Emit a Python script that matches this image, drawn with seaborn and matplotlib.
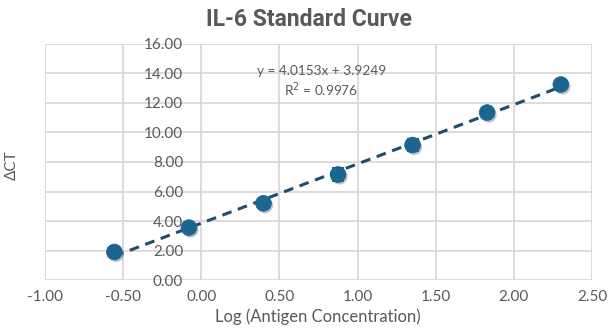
import numpy as np
import pandas as pd
import matplotlib
matplotlib.use("Agg")
import matplotlib.pyplot as plt
import matplotlib.patheffects as pe
import seaborn as sns

log_conc = [-0.556, -0.079, 0.398, 0.875, 1.352, 1.829, 2.301]
delta_ct = [1.90, 3.55, 5.20, 7.15, 9.15, 11.35, 13.25]
errors = [0.15, 0.20, 0.20, 0.45, 0.40, 0.20, 0.20]
x_ticks = [-1.0, -0.5, 0.0, 0.5, 1.0, 1.5, 2.0, 2.5]
y_ticks = [0, 2, 4, 6, 8, 10, 12, 14, 16]
title = "IL-6 Standard Curve"
eq_text = "y = 4.0153x + 3.9249"
r2_text = "R$^2$ = 0.9976"

df = pd.DataFrame({"x": log_conc, "y": delta_ct, "err": errors})

sns.set_theme(style="white")
plt.rcParams["font.family"] = ["Lato", "DejaVu Sans"]

fig = plt.figure(figsize=(6.13, 3.32), dpi=100)
ax = fig.add_axes([0.0734, 0.1566, 0.8923, 0.7109])

gray = "#595959"
line_c = "#1F4E6B"
mark_c = "#1B6690"

sns.regplot(data=df, x="x", y="y", ax=ax, scatter=False, ci=None, truncate=True,
            line_kws=dict(color=line_c, lw=2.2, ls=(0, (3.2, 2.2)), zorder=3))
ax.errorbar(df["x"], df["y"], yerr=df["err"], fmt="none", ecolor="#203040",
            elinewidth=1.2, capsize=4, capthick=1.2, zorder=4)
sns.scatterplot(data=df, x="x", y="y", ax=ax, s=130, color=mark_c, edgecolor=mark_c,
                linewidth=0.5, zorder=5,
                path_effects=[pe.SimplePatchShadow(offset=(1.2, -1.5), shadow_rgbFace="#7a7a7a", alpha=0.45),
                              pe.Normal()])

ax.set_xlim(-1.0, 2.5)
ax.set_ylim(0, 16)
ax.set_xticks(x_ticks)
ax.set_yticks(y_ticks)
ax.set_xticklabels([f"{v:.2f}" for v in x_ticks])
ax.set_yticklabels([f"{v:.2f}" for v in y_ticks])
ax.grid(True, color="#d9d9d9", lw=1.3)
ax.set_axisbelow(True)
for s in ax.spines.values():
    s.set_visible(False)
ax.spines["left"].set_position(("data", 0))
ax.tick_params(axis="y", length=0, pad=13, labelsize=11, labelcolor=gray)
ax.tick_params(axis="x", length=0, pad=7, labelsize=11, labelcolor=gray)

ax.set_xlabel("")
ax.set_ylabel("")
fig.text(318 / 613, 1 - 317 / 332, "Log (Antigen Concentration)", ha="center", va="center",
         fontsize=12, color=gray)
fig.text(12 / 613, 1 - 165 / 332, "ΔCT", rotation=90, ha="center", va="center",
         fontsize=11, color=gray)

fig.text(309 / 613, 1 - 19 / 332, title, ha="center", va="center", fontsize=16.5,
         fontweight="bold", color=gray, family=["Roboto", "DejaVu Sans"])

ax.text(0.77, 14.2, eq_text, ha="center", va="center", fontsize=9.8, color=gray)
ax.text(0.77, 12.9, r2_text, ha="center", va="center", fontsize=9.8, color=gray)

fig.savefig("out.png", dpi=100, facecolor="white")
